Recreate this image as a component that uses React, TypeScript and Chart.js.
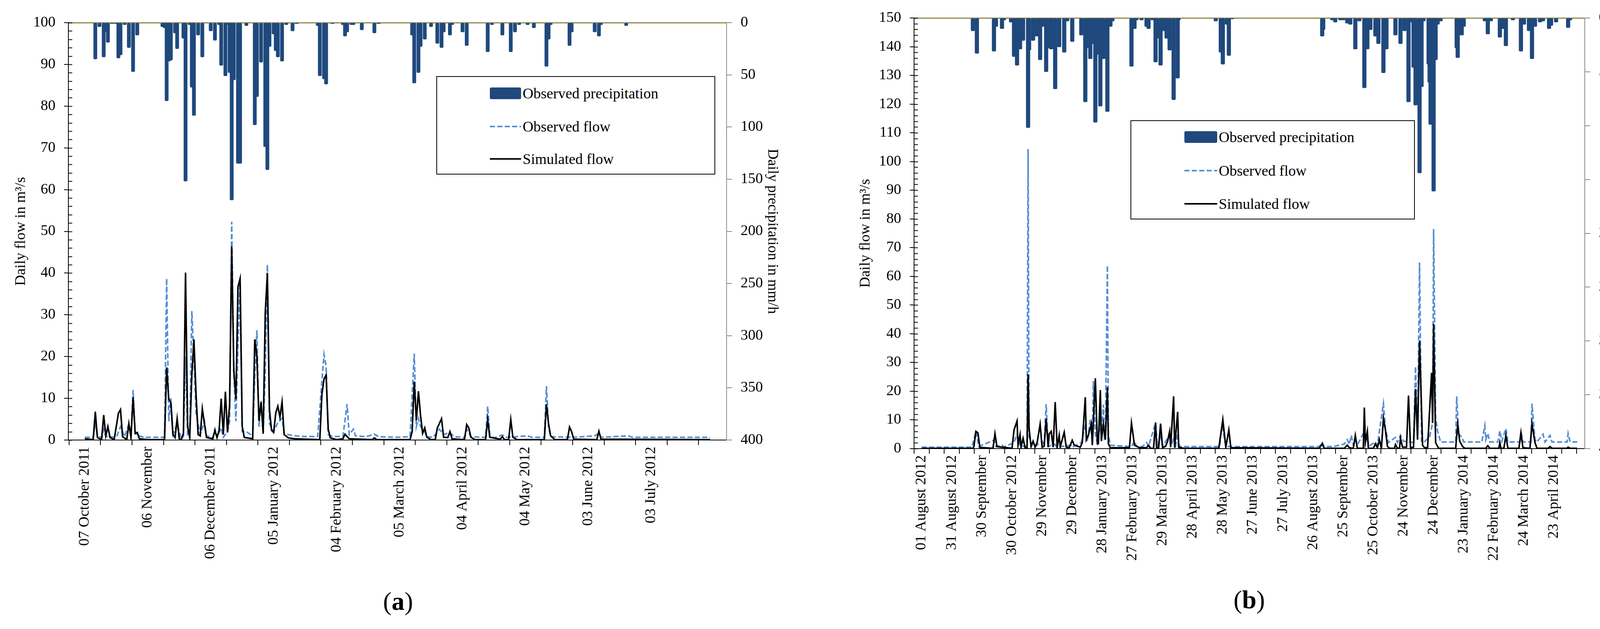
import React, { useEffect, useRef } from "react";
import { Chart, registerables } from "chart.js";

Chart.register(...registerables);

const FONT = "'Liberation Serif', 'DejaVu Serif', serif";
const PRECIP_COLOR = "#1F497D";
const OBS_COLOR = "#558ED5";
const OLIVE = "#948A54";
const GREY = "#8C8C8C";

Chart.defaults.font.family = FONT;

type Pair = [number, number];

// ---------- panel (a): 07 October 2011 onwards, one point per day index ----------
const daysA = 298;
const tickLabelsA = [
  "07 October 2011",
  "06 November",
  "06 December 2011",
  "05 January 2012",
  "04 February 2012",
  "05 March 2012",
  "04 April 2012",
  "04 May 2012",
  "03 June 2012",
  "03 July 2012",
];

// [day, mm/h]
const precipA: Pair[] = [
  [5, 35], [7, 4], [9, 33], [10, 9], [11, 19], [13, 1], [15, 1], [16, 34], [17, 31], [19, 2],
  [21, 24], [23, 47], [25, 12], [37, 4], [38, 5], [39, 75], [40, 37], [41, 36], [43, 10], [44, 25],
  [47, 15], [48, 152], [50, 2], [51, 62], [52, 89], [54, 12], [56, 33], [60, 8], [62, 17], [64, 2],
  [65, 41], [67, 51], [68, 2], [69, 48], [70, 170], [71, 55], [73, 135], [74, 135], [77, 3], [81, 98],
  [82, 71], [84, 38], [86, 119], [87, 141], [88, 23], [90, 11], [91, 27], [92, 33], [94, 37], [96, 2],
  [99, 8], [101, 1], [111, 3], [112, 51], [114, 54], [115, 59], [118, 1], [123, 2], [124, 13], [125, 9],
  [127, 2], [128, 2], [132, 7], [138, 10], [140, 1], [156, 12], [157, 58], [159, 48], [160, 23], [162, 16],
  [165, 4], [168, 20], [170, 24], [171, 9], [174, 12], [175, 2], [180, 9], [182, 22], [192, 28], [194, 2],
  [199, 12], [203, 28], [205, 9], [207, 2], [211, 2], [214, 5], [220, 42], [221, 16], [222, 2], [231, 22],
  [232, 9], [243, 9], [245, 13], [246, 2], [258, 3],
];

// [day, m3/s]
const obsFlowA: Pair[] = [
  [0, 0.65], [4, 0.65], [5, 4], [6, 1.0], [8, 0.6], [9, 2.5], [10, 0.9], [12, 0.8], [15, 0.6], [17, 3.2],
  [19, 0.8], [21, 3.9], [22, 1.0], [23, 12], [24, 1.5], [26, 1.0], [28, 0.65], [38, 0.65], [39, 38.7], [40, 4.5],
  [41, 10], [42, 1.3], [44, 3.9], [46, 0.3], [47, 1.0], [48, 20], [49, 1.0], [50, 1.5], [51, 30.9], [52, 19.5],
  [53, 6.5], [55, 1.3], [57, 4.5], [58, 1.0], [61, 0.65], [62, 2.6], [63, 0.65], [65, 2.9], [66, 0.65], [68, 2.0],
  [69, 4.5], [70, 52.3], [71, 16.3], [72, 4.5], [73, 22.8], [74, 38], [75, 2.0], [77, 2.0], [79, 1.3], [80, 0.65],
  [81, 15], [82, 26.3], [83, 3.2], [84, 9.4], [85, 2.0], [86, 16], [87, 42], [88, 3.9], [90, 2.0], [92, 4.2],
  [94, 5.2], [95, 1.6], [97, 1.3], [100, 1.0], [105, 0.85], [111, 0.85], [113, 14.3], [114, 20.5], [115, 17.6], [116, 1.3],
  [118, 0.85], [123, 0.85], [125, 8.6], [126, 1.3], [128, 2.6], [129, 1.0], [134, 0.8], [138, 1.4], [140, 0.8], [148, 0.65],
  [155, 0.8], [157, 20.7], [158, 3.2], [159, 5.2], [160, 3.2], [162, 2.0], [163, 0.8], [166, 0.65], [169, 2.6], [171, 1.3],
  [174, 1.8], [176, 0.8], [181, 0.65], [182, 2.6], [184, 0.8], [191, 0.65], [192, 8.1], [193, 1.3], [195, 0.5], [199, 1.2],
  [201, 0.65], [211, 1.0], [213, 0.65], [219, 0.65], [220, 12.9], [221, 3.2], [222, 0.8], [231, 0.65], [232, 1.0], [233, 0.65],
  [243, 1.0], [245, 1.6], [246, 0.65], [259, 1.0], [261, 0.65], [298, 0.65],
];

const simFlowA: Pair[] = [
  [0, 0.3], [4, 0.1], [5, 6.8], [6, 0.6], [8, 0.1], [9, 6.0], [10, 1.0], [11, 3.2], [12, 0.6], [14, 0.1],
  [16, 6.4], [17, 7.3], [18, 0.8], [20, 0.1], [21, 3.9], [22, 0.6], [23, 10.2], [24, 1.6], [25, 1.8], [26, 0.3],
  [30, 0.1], [38, 0.1], [39, 17.4], [40, 9.8], [41, 9.0], [42, 1.3], [43, 0.6], [44, 5.1], [45, 0.3], [46, 0.1],
  [47, 1.6], [48, 40.1], [49, 3.3], [50, 0.6], [51, 15.6], [52, 24.1], [53, 11], [54, 1.3], [55, 1.0], [56, 7.5],
  [57, 3.9], [58, 0.6], [61, 0.3], [62, 2.3], [63, 0.6], [64, 2.3], [65, 9.9], [66, 1.3], [67, 11.6], [68, 1.8],
  [69, 8.5], [70, 46.4], [71, 16.9], [72, 9.8], [73, 36.7], [74, 38.7], [75, 3.3], [76, 0.6], [80, 0.3], [81, 24.1],
  [82, 20.2], [83, 4.6], [84, 9.1], [85, 1.5], [86, 30.6], [87, 40], [88, 7.2], [89, 2.3], [90, 1.8], [91, 6.5],
  [92, 8.1], [93, 5.5], [94, 9.1], [95, 1.3], [97, 0.5], [100, 0.3], [112, 0.1], [113, 11], [114, 14.6], [115, 15.6],
  [116, 2.6], [117, 0.5], [120, 0.1], [123, 0.3], [124, 1.4], [126, 0.3], [137, 0.1], [138, 0.5], [139, 0.1], [155, 0.1],
  [156, 2], [157, 14], [158, 4.7], [159, 11.7], [160, 5.9], [161, 1.6], [162, 2.9], [163, 0.65], [165, 0.1], [167, 0.1],
  [168, 2.9], [170, 5.1], [171, 0.65], [173, 0.6], [174, 2.0], [175, 0.3], [180, 0.1], [181, 0.3], [182, 3.7], [183, 2.9],
  [184, 0.65], [186, 0.1], [191, 0.1], [192, 4.9], [193, 0.65], [198, 0.2], [199, 0.8], [200, 0.1], [202, 0.1], [203, 4.9],
  [204, 0.65], [206, 0.1], [219, 0.1], [220, 8.6], [221, 3.9], [222, 1.0], [224, 0.1], [230, 0.1], [231, 3.1], [232, 2.0],
  [233, 0.2], [244, 0.1], [245, 2.1], [246, 0.2], [298, 0.1],
];

// ---------- panel (b): 01 August 2012 onwards ----------
const daysB = 653;
const tickLabelsB = [
  "01 August 2012",
  "31 August 2012",
  "30 September",
  "30 October 2012",
  "29 November",
  "29 December",
  "28 January 2013",
  "27 February 2013",
  "29 March 2013",
  "28 April 2013",
  "28 May 2013",
  "27 June 2013",
  "27 July 2013",
  "26 August 2013",
  "25 September",
  "25 October 2013",
  "24 November",
  "24 December",
  "23 January 2014",
  "22 February 2014",
  "24 March 2014",
  "23 April 2014",
];

const precipB: Pair[] = [
  [51, 12], [55, 33], [72, 31], [74, 8], [80, 10], [82, 2], [89, 4], [92, 36], [95, 44], [98, 29],
  [101, 21], [106, 102], [107, 30], [111, 21], [115, 17], [118, 39], [121, 8], [124, 50], [127, 28], [129, 29],
  [133, 66], [137, 27], [142, 32], [145, 3], [150, 22], [159, 16], [163, 78], [166, 28], [168, 38], [171, 24],
  [173, 97], [176, 34], [178, 82], [181, 38], [185, 87], [188, 8], [190, 3], [209, 45], [212, 10], [214, 2],
  [219, 2], [224, 8], [226, 10], [230, 2], [233, 41], [234, 19], [238, 44], [241, 12], [244, 19], [247, 30],
  [251, 76], [255, 56], [256, 2], [293, 3], [298, 32], [300, 43], [304, 6], [306, 35], [309, 1], [399, 17],
  [400, 11], [409, 2], [412, 4], [417, 2], [420, 2], [424, 5], [427, 6], [432, 29], [436, 3], [441, 65],
  [444, 29], [447, 11], [452, 17], [455, 24], [460, 51], [463, 29], [472, 16], [477, 24], [481, 12], [485, 78],
  [487, 4], [490, 46], [492, 81], [496, 144], [498, 64], [500, 3], [505, 43], [506, 60], [507, 99], [510, 161],
  [512, 39], [514, 6], [517, 3], [533, 28], [534, 37], [538, 16], [540, 8], [561, 3], [564, 15], [567, 3],
  [576, 18], [579, 10], [582, 26], [589, 2], [597, 31], [600, 6], [605, 12], [608, 38], [611, 8], [616, 4],
  [619, 3], [625, 10], [627, 7], [632, 4], [644, 9], [646, 2],
];

const obsFlowB: Pair[] = [
  [0, 0.5], [50, 0.5], [54, 6.0], [57, 0.7], [72, 3.0], [74, 0.7], [80, 1.2], [82, 0.6], [92, 2.1], [95, 5.0],
  [97, 2.1], [99, 0.7], [105, 1.0], [106, 104.3], [107, 4.1], [109, 1.5], [113, 0.7], [120, 2.6], [122, 1.0], [124, 15.5],
  [126, 0.8], [133, 1.5], [134, 0.7], [142, 0.8], [150, 1.3], [151, 0.7], [159, 2.1], [163, 8], [165, 2.5], [168, 10.1],
  [170, 2.0], [171, 23.5], [173, 5], [175, 2.0], [178, 8.9], [179, 3], [181, 15.3], [182, 4], [183, 5], [185, 63.8],
  [186, 5], [188, 1.2], [209, 0.7], [212, 2.6], [214, 0.8], [220, 0.7], [224, 2.1], [226, 0.8], [233, 8.9], [235, 0.8],
  [238, 5], [240, 0.7], [245, 3.6], [247, 5], [249, 1.2], [251, 4], [253, 1.0], [255, 5], [257, 0.7], [297, 0.7],
  [298, 5], [300, 7], [303, 0.7], [396, 0.7], [399, 2.1], [401, 0.7], [410, 0.7], [421, 1.6], [424, 3.1], [426, 1.5],
  [428, 4.6], [430, 1.2], [432, 3], [434, 1.2], [441, 6], [446, 1.0], [452, 2.3], [454, 1.2], [460, 15.7], [462, 7],
  [465, 2.1], [472, 3.9], [474, 2.1], [477, 4.6], [480, 2.6], [490, 2.1], [492, 28.6], [494, 4.6], [496, 64.8], [498, 2.6],
  [500, 2.1], [506, 4.1], [509, 8.9], [510, 76.5], [512, 10.9], [514, 6.0], [517, 2.3], [532, 2.3], [533, 18.2], [535, 5],
  [538, 4.1], [540, 2.3], [558, 2.3], [561, 8], [562, 3.1], [564, 5.3], [566, 2.3], [574, 2.3], [576, 6.2], [578, 2.6],
  [582, 7], [584, 2.3], [596, 2.3], [597, 6.0], [599, 2.3], [607, 2.3], [608, 15.7], [611, 3.1], [613, 2.3], [619, 5],
  [621, 2.3], [626, 4.6], [628, 2.3], [643, 2.3], [644, 5.3], [646, 2.3], [653, 2.3],
];

const simFlowB: Pair[] = [
  [0, 0.1], [51, 0.1], [52, 0.7], [54, 6.0], [56, 5.5], [58, 0.4], [71, 0.1], [73, 5.2], [75, 0.7], [90, 0.1],
  [92, 6.5], [95, 9.6], [96, 1.2], [98, 4.9], [99, 0.5], [101, 3.6], [103, 0.3], [105, 0.3], [106, 25.9], [107, 7.0],
  [109, 0.7], [111, 2.6], [113, 0.5], [115, 2.1], [118, 8.5], [120, 0.5], [122, 0.8], [124, 10.4], [126, 0.5], [127, 5.1],
  [129, 6.0], [131, 0.5], [133, 16.2], [135, 0.5], [137, 4.6], [138, 0.5], [142, 5.7], [144, 0.5], [147, 0.3], [150, 2.9],
  [152, 1.2], [158, 0.5], [160, 2.1], [163, 17.9], [164, 3.1], [166, 4.6], [169, 8.7], [170, 1.2], [173, 24.5], [175, 1.7],
  [176, 1.7], [178, 20.4], [179, 2.6], [181, 8.5], [183, 3.1], [185, 21.4], [186, 1.7], [188, 0.3], [207, 0.3], [209, 8.9],
  [212, 1.2], [217, 0.3], [224, 0.3], [226, 1.2], [228, 0.1], [231, 0.1], [233, 9.1], [234, 0.3], [236, 0.1], [238, 8.7],
  [240, 0.3], [243, 0.8], [245, 2.6], [247, 6.0], [248, 0.5], [251, 18.2], [252, 0.3], [255, 12.8], [256, 0.5], [261, 0.1],
  [296, 0.1], [298, 5.1], [300, 10.1], [303, 0.5], [306, 6.5], [308, 0.3], [396, 0.1], [399, 1.7], [401, 0.1], [421, 0.1],
  [424, 1.2], [426, 0.3], [430, 0.1], [432, 4.6], [434, 0.1], [440, 0.1], [441, 14.3], [442, 2.1], [444, 6.0], [445, 0.1],
  [450, 0.1], [452, 1.7], [454, 0.3], [456, 3.1], [458, 0.1], [460, 10.6], [462, 6.5], [464, 0.8], [466, 0.1], [471, 0.1],
  [472, 1.4], [474, 0.1], [476, 0.1], [477, 3.6], [479, 0.5], [483, 0.5], [485, 18.5], [487, 0.3], [490, 0.5], [492, 20.8],
  [494, 3.1], [496, 37.6], [499, 1.2], [501, 0.3], [504, 0.3], [508, 26.4], [509, 8.9], [510, 43.4], [512, 2.1], [515, 0.1],
  [532, 0.1], [534, 8.5], [536, 2.6], [539, 0.7], [541, 0.1], [562, 0.1], [564, 1.0], [566, 0.1], [575, 0.1], [576, 2.1],
  [577, 0.1], [580, 0.1], [582, 4.6], [584, 0.1], [595, 0.1], [597, 5.5], [599, 0.3], [606, 0.1], [608, 8.7], [611, 2.1],
  [613, 0.1], [624, 0.1], [626, 0.7], [628, 0.1], [643, 0.1], [644, 0.5], [646, 0.1], [653, 0.1],
];

const toXY = (pairs: Pair[]) => pairs.map(([x, y]) => ({ x, y }));

// minor ticks of the flow axis point into the plot, as in the original figure
const innerTicks = {
  id: "innerTicks",
  afterDraw(chart: any) {
    const scale = chart.scales.y;
    if (!scale) return;
    const c = chart.ctx;
    const x0 = chart.chartArea.left;
    c.save();
    c.strokeStyle = "#000";
    c.lineWidth = 2;
    scale.ticks.forEach((t: any) => {
      const py = Math.round(scale.getPixelForValue(t.value)) + 0.5;
      c.beginPath();
      c.moveTo(x0, py);
      c.lineTo(x0 + 10, py);
      c.stroke();
    });
    c.restore();
  },
};

interface PanelProps {
  left: number;
  days: number;
  flowMax: number;
  tickLabels: string[];
  precip: Pair[];
  obs: Pair[];
  sim: Pair[];
  pad: { left: number; right: number; top: number };
  yWidth: number;
  y2Width: number;
  xHeight: number;
  barWidth: number;
}

const W = 2115;
const H = 1611;

const Panel: React.FC<PanelProps> = (p) => {
  const canvasRef = useRef<HTMLCanvasElement | null>(null);

  useEffect(() => {
    if (!canvasRef.current) return;
    const ctx = canvasRef.current.getContext("2d");
    if (!ctx) return;

    const tickFont = { family: FONT, size: 38 };

    const chart = new Chart(ctx, {
      type: "bar",
      data: {
        datasets: [
          {
            type: "line",
            label: "Simulated flow",
            data: toXY(p.sim),
            borderColor: "#000000",
            borderWidth: 4,
            pointRadius: 0,
            tension: 0,
            xAxisID: "x",
            yAxisID: "y",
            order: 1,
          },
          {
            type: "line",
            label: "Observed flow",
            data: toXY(p.obs),
            borderColor: OBS_COLOR,
            borderWidth: 4,
            borderDash: [13, 6],
            pointRadius: 0,
            tension: 0,
            xAxisID: "x",
            yAxisID: "y",
            order: 2,
          },
          {
            type: "bar",
            label: "Observed precipitation",
            data: toXY(p.precip),
            backgroundColor: PRECIP_COLOR,
            barThickness: p.barWidth,
            borderRadius: 3,
            borderSkipped: false,
            xAxisID: "x",
            yAxisID: "y2",
            order: 3,
          },
        ],
      } as any,
      options: {
        animation: false,
        responsive: false,
        layout: { padding: { left: p.pad.left, right: p.pad.right, top: p.pad.top, bottom: 0 } },
        plugins: { legend: { display: false }, tooltip: { enabled: false } },
        scales: {
          x: {
            type: "linear",
            position: "bottom",
            min: 0,
            max: p.days,
            afterFit: (s: any) => {
              s.height = p.xHeight;
            },
            ticks: {
              stepSize: 15,
              autoSkip: false,
              includeBounds: false,
              minRotation: 90,
              maxRotation: 90,
              padding: 4,
              color: "#000",
              font: tickFont,
              callback: (v: any) => {
                const n = Number(v);
                if (n % 30 === 0) return p.tickLabels[n / 30] ?? "";
                if (n % 15 === 0) return "";
                return null;
              },
            },
            grid: { drawOnChartArea: false, tickLength: 13, color: "#000", lineWidth: 2 },
            border: { color: "#000", width: 2 },
          },
          xTop: {
            type: "linear",
            position: "top",
            min: 0,
            max: p.days,
            afterFit: (s: any) => {
              s.height = 0;
            },
            ticks: { display: false },
            grid: { display: false, drawTicks: false },
            border: { color: OLIVE, width: 3 },
          },
          y: {
            type: "linear",
            position: "left",
            min: 0,
            max: p.flowMax,
            afterFit: (s: any) => {
              s.width = p.yWidth;
            },
            ticks: {
              stepSize: 2,
              autoSkip: false,
              padding: 22,
              color: "#000",
              font: tickFont,
              callback: (v: any) => (Number(v) % 10 === 0 ? String(v) : ""),
            },
            grid: {
              drawOnChartArea: false,
              tickLength: 11,
              lineWidth: 2,
              color: "#000",
              tickColor: (c: any) => (c.tick && c.tick.value % 10 === 0 ? "#000" : "rgba(0,0,0,0)"),
            },
            border: { color: "#000", width: 2 },
            title: {
              display: true,
              text: "Daily flow in m³/s",
              color: "#000",
              font: { family: FONT, size: 38 },
              padding: { top: 4, bottom: 4 },
            },
          },
          y2: {
            type: "linear",
            position: "right",
            min: 0,
            max: 400,
            reverse: true,
            afterFit: (s: any) => {
              s.width = p.y2Width;
            },
            ticks: {
              stepSize: 50,
              autoSkip: false,
              padding: 22,
              color: "#000",
              font: tickFont,
            },
            grid: { drawOnChartArea: false, tickLength: 14, color: GREY, lineWidth: 2 },
            border: { color: GREY, width: 2 },
            title: {
              display: true,
              text: "Daily precipitation in mm/h",
              color: "#000",
              font: { family: FONT, size: 38 },
              padding: { top: 4, bottom: 4 },
            },
          },
        },
      } as any,
      plugins: [innerTicks],
    });

    return () => {
      chart.destroy();
    };
  }, []);

  return (
    <canvas
      ref={canvasRef}
      width={W}
      height={H}
      style={{ position: "absolute", left: p.left, top: 0, width: W, height: H }}
    />
  );
};

interface LegendProps {
  left: number;
  top: number;
  width: number;
  height: number;
  swatchLeft: number;
  swatchWidth: number;
  rows: number[];
}

const LegendBox: React.FC<LegendProps> = (l) => {
  const text: React.CSSProperties = {
    position: "absolute",
    left: l.swatchLeft + l.swatchWidth + 4,
    transform: "translateY(-50%)",
    fontFamily: FONT,
    fontSize: 38,
    lineHeight: "38px",
    whiteSpace: "nowrap",
    color: "#000",
  };
  return (
    <div
      style={{
        position: "absolute",
        left: l.left,
        top: l.top,
        width: l.width,
        height: l.height,
        border: "2px solid #000",
        background: "#fff",
        boxSizing: "border-box",
      }}
    >
      <div
        style={{
          position: "absolute",
          left: l.swatchLeft,
          top: l.rows[0] - 15,
          width: l.swatchWidth,
          height: 30,
          background: PRECIP_COLOR,
          borderRadius: 4,
        }}
      />
      <div style={{ ...text, top: l.rows[0] }}>Observed precipitation</div>
      <svg
        style={{ position: "absolute", left: l.swatchLeft, top: l.rows[1] - 4 }}
        width={l.swatchWidth}
        height={8}
      >
        <line x1={0} y1={4} x2={l.swatchWidth} y2={4} stroke={OBS_COLOR} strokeWidth={4} strokeDasharray="13 6" />
      </svg>
      <div style={{ ...text, top: l.rows[1] }}>Observed flow</div>
      <svg
        style={{ position: "absolute", left: l.swatchLeft, top: l.rows[2] - 4 }}
        width={l.swatchWidth}
        height={8}
      >
        <line x1={0} y1={4} x2={l.swatchWidth} y2={4} stroke="#000" strokeWidth={4} />
      </svg>
      <div style={{ ...text, top: l.rows[2] }}>Simulated flow</div>
    </div>
  );
};

const PanelTag: React.FC<{ x: number; y: number; letter: string }> = ({ x, y, letter }) => (
  <div
    style={{
      position: "absolute",
      left: x,
      top: y,
      transform: "translate(-50%, -50%)",
      fontFamily: FONT,
      fontSize: 66,
      lineHeight: "66px",
      color: "#000",
    }}
  >
    (<b>{letter}</b>)
  </div>
);

const App: React.FC = () => {
  return (
    <div
      style={{
        position: "absolute",
        left: 0,
        top: 0,
        width: 4230,
        height: 1611,
        background: "#fff",
        overflow: "hidden",
      }}
    >
      <Panel
        left={0}
        days={daysA}
        flowMax={100}
        tickLabels={tickLabelsA}
        precip={precipA}
        obs={obsFlowA}
        sim={simFlowA}
        pad={{ left: 27, right: 111, top: 58 }}
        yWidth={148}
        y2Width={144}
        xHeight={484}
        barWidth={9}
      />
      <Panel
        left={2115}
        days={daysB}
        flowMax={150}
        tickLabels={tickLabelsB}
        precip={precipB}
        obs={obsFlowB}
        sim={simFlowB}
        pad={{ left: 74, right: 23, top: 46 }}
        yWidth={151}
        y2Width={150}
        xHeight={462}
        barWidth={10}
      />
      <LegendBox left={1117} top={195} width={714} height={252} swatchLeft={135} swatchWidth={80} rows={[42, 127, 210]} />
      <LegendBox left={2894} top={308} width={728} height={254} swatchLeft={136} swatchWidth={84} rows={[41, 127, 212]} />
      <PanelTag x={1019} y={1540} letter="a" />
      <PanelTag x={3198} y={1536} letter="b" />
    </div>
  );
};

export default App;
